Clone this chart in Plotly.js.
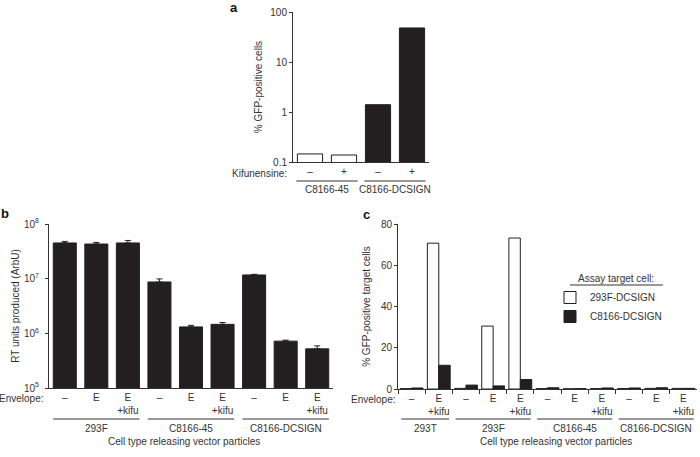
<!DOCTYPE html>
<html><head><meta charset="utf-8">
<script src="https://cdn.plot.ly/plotly-3.0.1.min.js"></script>
<style>html,body{margin:0;padding:0;background:#fff}#chart{width:700px;height:457px}</style>
</head><body><div id="chart"></div>
<script>
// ---------- Panel a ----------
const aGroups = ['C8166-45', 'C8166-45', 'C8166-DCSIGN', 'C8166-DCSIGN'];
const aKifunensine = ['–', '+', '–', '+'];
const aValues = [0.145, 0.138, 1.40, 48];
const aYTickVals = [0.1, 1, 10, 100];
const aYTickText = ['0.1', '1', '10', '100'];

// ---------- Panel b ----------
const bGroups = ['293F', '293F', '293F', 'C8166-45', 'C8166-45', 'C8166-45', 'C8166-DCSIGN', 'C8166-DCSIGN', 'C8166-DCSIGN'];
const bEnvelope = ['–', 'E', 'E<br>+kifu', '–', 'E', 'E<br>+kifu', '–', 'E', 'E<br>+kifu'];
const bValues = [4.5e7, 4.3e7, 4.5e7, 8.7e6, 1.31e6, 1.46e6, 1.17e7, 7.2e5, 5.2e5];
const bErrors = [3e6, 3e6, 5e6, 1.2e6, 0.09e6, 0.12e6, 0.3e6, 0.3e5, 0.7e5];
const bYTickVals = [1e5, 1e6, 1e7, 1e8];
const bYTickText = ['10<sup>5</sup>', '10<sup>6</sup>', '10<sup>7</sup>', '10<sup>8</sup>'];

// ---------- Panel c ----------
const cGroups = ['293T', '293T', '293F', '293F', '293F', 'C8166-45', 'C8166-45', 'C8166-45', 'C8166-DCSIGN', 'C8166-DCSIGN', 'C8166-DCSIGN'];
const cEnvelope = ['–', 'E<br>+kifu', '–', 'E', 'E<br>+kifu', '–', 'E', 'E<br>+kifu', '–', 'E', 'E<br>+kifu'];
const c293FDCSIGN = [0.2, 70.7, 0.3, 30.5, 73.2, 0.2, 0.1, 0.2, 0.2, 0.3, 0.3];
const cC8166DCSIGN = [0.5, 11.5, 1.9, 1.5, 4.6, 0.6, 0.2, 0.5, 0.5, 0.6, 0.3];
const cSeriesNames = ['293F-DCSIGN', 'C8166-DCSIGN'];
const cYTickVals = [0, 20, 40, 60, 80];

// ---------- helpers ----------
const W = 700, H = 457;
const px = x => x / W;
const py = y => 1 - y / H;
const INK = '#231f20';
const TXT = '#333333';
const FONT = 'Liberation Sans, Arial, Helvetica, sans-serif';

function ids(groups, labels) { return groups.map((g, i) => g + '|' + labels[i]); }
function runs(groups) {
  const out = [];
  groups.forEach((g, i) => {
    if (out.length && out[out.length - 1].name === g) out[out.length - 1].end = i;
    else out.push({ name: g, start: i, end: i });
  });
  return out;
}

const aIds = ids(aGroups, aKifunensine);
const bIds = ids(bGroups, bEnvelope);
const cIds = ids(cGroups, cEnvelope);

const traces = [
  {
    type: 'bar', x: aIds, y: aValues, xaxis: 'x', yaxis: 'y', width: 0.74, showlegend: false,
    marker: { color: aGroups.map(g => g === 'C8166-45' ? '#ffffff' : INK), line: { color: INK, width: 1 } },
    hoverinfo: 'y'
  },
  {
    type: 'bar', x: bIds, y: bValues, xaxis: 'x2', yaxis: 'y2', width: 0.73, showlegend: false,
    marker: { color: INK, line: { color: INK, width: 1 } },
    error_y: { type: 'data', array: bErrors, arrayminus: bErrors.map(() => 0), color: INK, thickness: 1, width: 3 },
    hoverinfo: 'y'
  },
  {
    type: 'bar', name: cSeriesNames[0], x: cIds, y: c293FDCSIGN, xaxis: 'x3', yaxis: 'y3',
    width: 0.42, offset: -0.42,
    marker: { color: '#ffffff', line: { color: INK, width: 1 } }
  },
  {
    type: 'bar', name: cSeriesNames[1], x: cIds, y: cC8166DCSIGN, xaxis: 'x3', yaxis: 'y3',
    width: 0.42, offset: 0,
    marker: { color: INK, line: { color: INK, width: 1 } }
  }
];

const baseX = {
  type: 'category', showgrid: false, zeroline: false, showline: true, linecolor: '#333', linewidth: 1,
  ticks: '', tickangle: 0, tickfont: { size: 10, color: TXT }, fixedrange: true, automargin: false
};
const baseY = {
  showgrid: false, zeroline: false, showline: true, linecolor: '#333', linewidth: 1,
  ticks: 'outside', ticklen: 3, tickcolor: '#333', tickfont: { size: 10, color: TXT },
  tickmode: 'array', fixedrange: true, automargin: false, title: { font: { size: 10, color: TXT } }
};

const layout = {
  width: W, height: H, margin: { l: 0, r: 0, t: 0, b: 0 },
  paper_bgcolor: '#fff', plot_bgcolor: 'rgba(0,0,0,0)',
  font: { family: FONT, size: 10, color: TXT },
  barmode: 'group', bargap: 0.26,
  showlegend: true,
  legend: {
    x: px(550), y: py(283), xanchor: 'left', yanchor: 'top',
    font: { size: 10, color: TXT }, bgcolor: 'rgba(0,0,0,0)', traceorder: 'normal'
  },
  xaxis: Object.assign({}, baseX, {
    domain: [px(293), px(429)], anchor: 'y',
    tickmode: 'array', tickvals: aIds, ticktext: aKifunensine, range: [-0.5, 3.5]
  }),
  yaxis: Object.assign({}, baseY, {
    domain: [py(162), py(12)], anchor: 'x', type: 'log', range: [-1, 2],
    tickvals: aYTickVals, ticktext: aYTickText,
    title: { text: '% GFP-positive cells', standoff: 5, font: { size: 10, color: TXT } }
  }),
  xaxis2: Object.assign({}, baseX, {
    domain: [px(49), px(333)], anchor: 'y2',
    tickmode: 'array', tickvals: bIds, ticktext: bEnvelope, range: [-0.5, 8.5]
  }),
  yaxis2: Object.assign({}, baseY, {
    domain: [py(388), py(224)], anchor: 'x2', type: 'log', range: [5, 8],
    tickvals: bYTickVals, ticktext: bYTickText, ticklabelstandoff: 4,
    title: { text: 'RT units produced (ArbU)', standoff: 2, font: { size: 10, color: TXT } }
  }),
  xaxis3: Object.assign({}, baseX, {
    domain: [px(398), px(697)], anchor: 'y3',
    tickmode: 'array', tickvals: cIds, ticktext: cEnvelope, range: [-0.5, 10.5],
    ticks: 'outside', tickson: 'boundaries', ticklen: 4, tickcolor: '#333'
  }),
  yaxis3: Object.assign({}, baseY, {
    domain: [py(389), py(224)], anchor: 'x3', range: [0, 80],
    tickvals: cYTickVals, ticktext: cYTickVals.map(String),
    title: { text: '% GFP-positive target cells', standoff: 8, font: { size: 10, color: TXT } }
  }),
  shapes: [],
  annotations: []
};

// panel letters
[['a', 234, 8], ['b', 5, 213], ['c', 366, 214]].forEach(([t, x, y]) => layout.annotations.push({
  text: '<b>' + t + '</b>', x: px(x), y: py(y), xref: 'paper', yref: 'paper', showarrow: false,
  xanchor: 'center', yanchor: 'middle', font: { size: 13, color: '#111' }
}));

// row labels
[['Kifunensine:', 289, 173], ['Envelope:', 45, 398], ['Envelope:', 397, 399]].forEach(([t, x, y]) => layout.annotations.push({
  text: t, x: px(x), y: py(y), xref: 'paper', yref: 'paper', showarrow: false,
  xanchor: 'right', yanchor: 'middle', font: { size: 10, color: TXT }
}));

// group brackets
function addGroups(groups, xref, lineY, labelY, pad) {
  runs(groups).forEach(r => {
    layout.shapes.push({
      type: 'line', xref: xref, yref: 'paper', x0: r.start - pad, x1: r.end + pad,
      y0: py(lineY), y1: py(lineY), line: { color: '#333', width: 1 }
    });
    layout.annotations.push({
      text: r.name, xref: xref, yref: 'paper', x: (r.start + r.end) / 2, y: py(labelY),
      showarrow: false, xanchor: 'center', yanchor: 'middle', font: { size: 10, color: TXT }
    });
  });
}
addGroups(aGroups, 'x', 181, 190, 0.4);
addGroups(bGroups, 'x2', 419, 428, 0.37);
addGroups(cGroups, 'x3', 419, 428, 0.38);

// axis titles below b and c
[[184, 441], [556, 441]].forEach(([x, y]) => layout.annotations.push({
  text: 'Cell type releasing vector particles', x: px(x), y: py(y), xref: 'paper', yref: 'paper',
  showarrow: false, xanchor: 'center', yanchor: 'middle', font: { size: 10, color: TXT }
}));

// legend heading for panel c
layout.annotations.push({
  text: 'Assay target cell:', x: px(616), y: py(278), xref: 'paper', yref: 'paper',
  showarrow: false, xanchor: 'center', yanchor: 'middle', font: { size: 10, color: TXT }
});
layout.shapes.push({
  type: 'line', xref: 'paper', yref: 'paper', x0: px(570), x1: px(663), y0: py(285), y1: py(285),
  line: { color: '#333', width: 1 }
});

Plotly.newPlot('chart', traces, layout, { displayModeBar: false, staticPlot: true });
</script>
</body></html>
